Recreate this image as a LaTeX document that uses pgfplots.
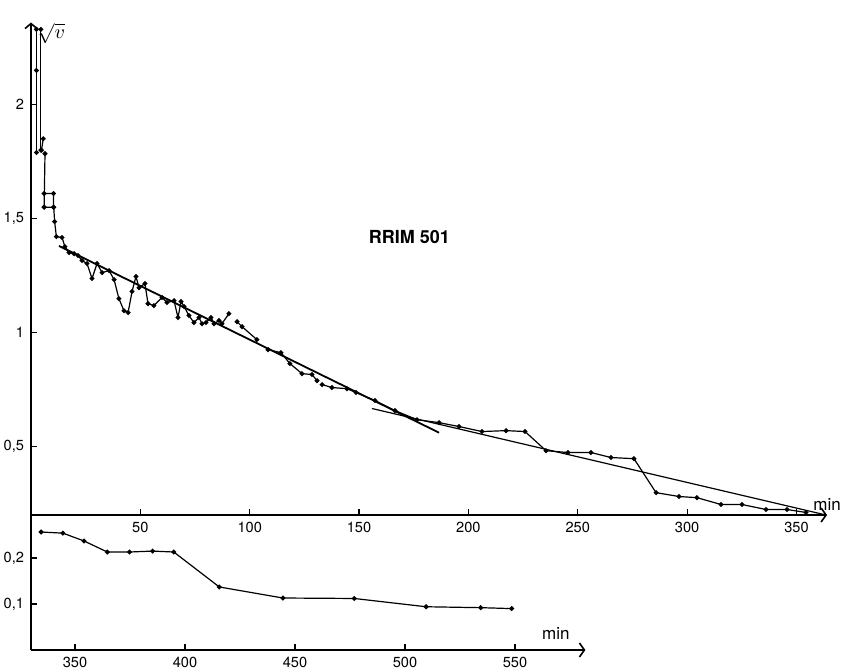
\documentclass[border=0pt]{standalone}
\usepackage{fontspec}
\setmainfont{TeX Gyre Heros}
\usepackage{pgfplots}
\pgfplotsset{compat=1.18}
\usetikzlibrary{arrows.meta}

\begin{document}
\begin{tikzpicture}
\useasboundingbox (0,0) rectangle (423pt,334pt);
\pgfplotsset{
  raw/.style={black, line width=0.6pt, mark=*, mark size=0.9pt, mark options={solid}},
  fit/.style={black, no marks},
  common/.style={
    enlargelimits=false, clip=false,
    axis x line=bottom, axis y line=left,
    axis line style={line width=0.8pt},
    tick align=inside, major tick length=3pt,
    tick style={black, line width=0.6pt},
    ticklabel style={font=\fontsize{7.3}{8}\selectfont},
    /pgf/number format/assume math mode=true,
  },
}

% upper panel: 0 to 360 min
\begin{axis}[common,
  at={(15.5pt,76.5pt)}, anchor=south west,
  x=1.0935pt, y=114pt,
  xmin=0, xmax=364, ymin=0.2, ymax=2.36,
  x axis line style={-{Straight Barb[length=2.5pt,width=7pt]}},
  y axis line style={-{Straight Barb[length=2.5pt,width=6pt]}},
  xtick={50,100,...,350},
  ytick={0.5,1,1.5,2}, yticklabels={{0,5},1,{1,5},2},
]
\addplot[raw] coordinates {(2.5,1.79) (2.5,2.15) (2.5,2.33) (4.5,2.33) (4.5,1.80)};
\addplot[raw] coordinates {(4.8,1.80) (5.6,1.85)};
\addplot[raw] coordinates {
  (6.4,1.785) (6.0,1.55) (6.0,1.61) (10.3,1.61) (10.3,1.55) (6.0,1.55)
  (10.4,1.55) (10.8,1.487) (11.6,1.421) (14.2,1.417) (15.5,1.377)
  (17.4,1.351) (19.7,1.346) (21.5,1.338) (23.3,1.316) (25.6,1.303)
  (27.9,1.237) (30.2,1.303) (32.5,1.263) (35.7,1.272) (38.0,1.232)
  (40.2,1.149) (42.5,1.096) (44.4,1.088) (46.2,1.180) (48.0,1.246)
  (49.4,1.197) (52.1,1.215) (53.5,1.127) (56.2,1.118) (59.9,1.154)
  (62.2,1.132) (65.4,1.140) (67.2,1.066) (68.6,1.136) (70.0,1.114)
  (72.2,1.075) (74.5,1.044) (76.8,1.066) (78.2,1.039) (80.0,1.044)
  (82.3,1.066) (83.7,1.039) (86.0,1.053) (87.3,1.039) (90.5,1.083)
};
\addplot[raw] coordinates {(94.2,1.048) (96.5,1.026) (103.3,0.969)};
\addplot[raw] coordinates {
  (108.4,0.925) (114.3,0.912) (118.4,0.864) (123.9,0.820) (128.5,0.816) (130.8,0.789)
};
\addplot[raw] coordinates {
  (133.1,0.772) (137.6,0.759) (144.5,0.754) (148.6,0.737) (157.3,0.702)
  (166.4,0.658) (176.5,0.618) (186.6,0.605) (195.7,0.588) (206.2,0.566)
  (217.2,0.570) (225.9,0.566) (235.5,0.482) (245.5,0.474) (256.0,0.474)
  (265.2,0.452) (275.7,0.447) (285.8,0.298) (296.3,0.281) (304.5,0.276)
  (315.5,0.246) (325.1,0.246) (336.1,0.224) (345.7,0.224) (354.4,0.211)
};
% fitted straight lines
\addplot[fit, line width=0.9pt] coordinates {(12.8,1.38) (186.6,0.561)};
\addplot[fit, line width=0.6pt] coordinates {(155.9,0.667) (362.6,0.202)};

\node[font=\bfseries\fontsize{9}{10}\selectfont] at (axis cs:173,1.42) {RRIM 501};
\node[font=\fontsize{8.5}{10}\selectfont] at (axis cs:364,0.245) {min};
\node[anchor=north west, inner sep=0pt] at (axis cs:3,2.36) {$\sqrt{v}$};
\end{axis}

% lower panel: 330 to 580 min, expanded scale
\begin{axis}[common,
  at={(15.5pt,9pt)}, anchor=south west,
  x=1.1pt, y=230pt,
  xmin=330, xmax=582, ymin=0, ymax=0.293,
  x axis line style={-{Straight Barb[length=2.5pt,width=7pt]}},
  y axis line style={-},
  xtick={350,400,...,550},
  ytick={0.1,0.2}, yticklabels={{0,1},{0,2}},
]
\addplot[raw] coordinates {
  (334.6,0.2565) (344.5,0.254) (354.1,0.237) (364.7,0.213) (374.8,0.213)
  (385.3,0.215) (394.9,0.213) (415.6,0.137) (444.5,0.113) (476.9,0.112)
  (509.6,0.094) (534.4,0.092) (548.5,0.090)
};
\node[font=\fontsize{8.5}{10}\selectfont] at (axis cs:568.6,0.035) {min};
\end{axis}
\end{tikzpicture}
\end{document}
